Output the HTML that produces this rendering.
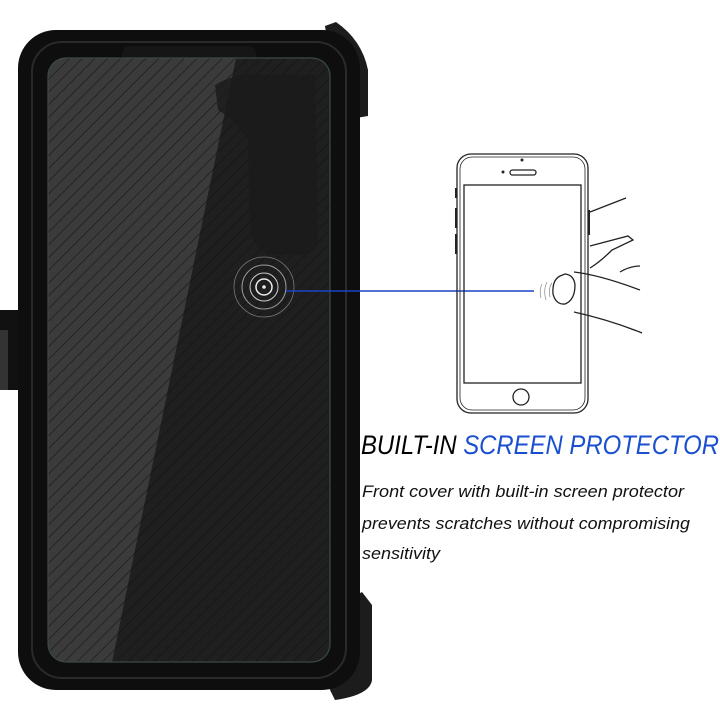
<!DOCTYPE html>
<html><head><style>
html,body{margin:0;padding:0;background:#fff;width:720px;height:720px;overflow:hidden}
</style></head><body>
<svg width="720" height="720" viewBox="0 0 720 720" xmlns="http://www.w3.org/2000/svg">
<defs>
<pattern id="st" width="9" height="9" patternUnits="userSpaceOnUse" patternTransform="rotate(-45)">
<rect width="9" height="9" fill="none"/><line x1="0" y1="0" x2="9" y2="0" stroke="#111" stroke-width="2"/>
</pattern>
<clipPath id="scr"><rect x="48" y="58" width="282" height="604" rx="18"/></clipPath>
</defs>
<rect x="0" y="310" width="24" height="80" fill="#111"/>
<rect x="0" y="330" width="8" height="60" fill="#333"/>
<path d="M325 26 L336 22 Q362 40 368 70 L368 116 L356 118 L330 60 Z" fill="#1c1c1c"/>
<path d="M348 600 L362 592 L372 605 L372 680 Q370 695 335 700 L330 690 Z" fill="#1c1c1c"/>
<rect x="18" y="30" width="342" height="660" rx="38" fill="#0e0e0e"/>
<rect x="32" y="42" width="314" height="636" rx="30" fill="none" stroke="#2a2a2a" stroke-width="2"/>
<rect x="122" y="46" width="134" height="26" rx="8" fill="#161616"/>
<g clip-path="url(#scr)">
<rect x="48" y="58" width="282" height="604" fill="#1f1f1f"/>
<path d="M48 58 L236 58 L112 662 L48 662 Z" fill="#3b3b3b"/>
<rect x="48" y="58" width="282" height="604" fill="url(#st)" opacity="0.55"/>
<path d="M215 85 Q240 70 270 75 L315 75 L318 240 Q316 255 300 255 L270 255 Q255 250 250 230 L248 140 Q235 120 218 110 Z" fill="#1a1a1a" opacity="0.8"/>
</g>
<rect x="48" y="58" width="282" height="604" rx="18" fill="none" stroke="#3a4a4a" stroke-width="1.2"/>
<g fill="none" stroke="#ccc">
<circle cx="264" cy="287" r="30" stroke-width="0.8" stroke="#777"/>
<circle cx="264" cy="287" r="22" stroke-width="1" stroke="#999"/>
<circle cx="264" cy="287" r="14" stroke-width="1"/>
<circle cx="264" cy="287" r="8" stroke-width="1.5" stroke="#eee"/>
</g>
<circle cx="264" cy="287" r="1.8" fill="#eee"/>
<line x1="286" y1="291" x2="534" y2="291" stroke="#1a44c8" stroke-width="1.5"/>
<g fill="none" stroke="#222" stroke-width="1.3">
<rect x="457" y="154" width="131" height="259" rx="14"/>
<rect x="460" y="157" width="125" height="253" rx="12" stroke-width="0.8"/>
<rect x="464" y="185" width="117" height="198"/>
<rect x="510" y="170" width="26" height="5" rx="2.5"/>
<circle cx="521" cy="397" r="8"/>
<path d="M456 188 v10 M456 208 v20 M456 234 v20" stroke-width="2"/>
<path d="M589 210 v25" stroke-width="2"/>
<path d="M590 212 L626 198"/>
<path d="M590 246 L628 236 L633 240 L612 250 Q600 262 590 268"/>
<path d="M620 272 Q630 266 640 266"/>
<path d="M574 272 Q600 275 640 290"/>
<path d="M574 312 Q610 320 642 333"/>
<path d="M560 276 Q552 280 553 294 Q556 305 565 304 Q575 300 575 285 Q574 275 565 274 Z"/>
<path d="M552 283 Q548 288 550 297 M547 282 Q543 290 546 300 M542 284 Q539 290 541 298" stroke-width="0.7" stroke="#888"/>
</g>
<circle cx="522" cy="160" r="1.5" fill="#222"/>
<circle cx="503" cy="172" r="1.5" fill="#222"/>
<g font-family="Liberation Sans, sans-serif" font-style="italic">
<text x="361" y="454" font-size="27" textLength="358" lengthAdjust="spacingAndGlyphs"><tspan fill="#000">BUILT-IN </tspan><tspan fill="#1a4fd0">SCREEN PROTECTOR</tspan></text>
<text x="362" y="497" font-size="17" fill="#111" textLength="322" lengthAdjust="spacingAndGlyphs">Front cover with built-in screen protector</text>
<text x="362" y="529" font-size="17" fill="#111" textLength="328" lengthAdjust="spacingAndGlyphs">prevents scratches without compromising</text>
<text x="362" y="559" font-size="17" fill="#111" textLength="78" lengthAdjust="spacingAndGlyphs">sensitivity</text>
</g>
</svg>
</body></html>
